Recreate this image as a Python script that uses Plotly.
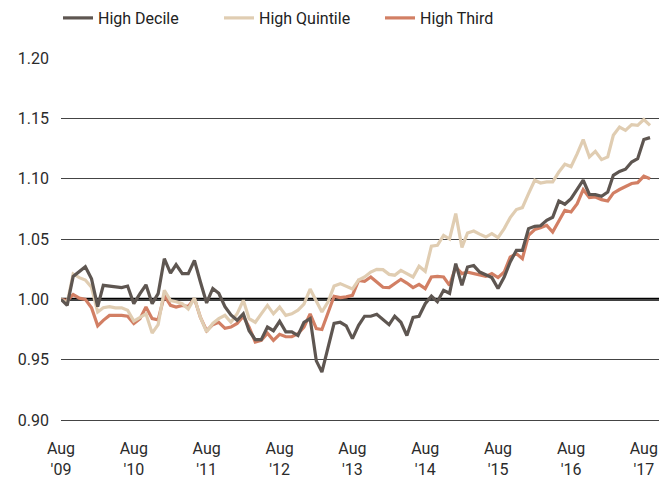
import pandas as pd
import plotly.graph_objects as go

months = pd.date_range("2009-08-01", periods=98, freq="MS")

high_decile = [
    1.000, 0.995, 1.019, 1.0235, 1.027, 1.017, 0.994, 1.0116, 1.011, 1.010,
    1.0097, 1.011, 0.9964, 1.0047, 1.012, 0.9964, 1.0047, 1.0337, 1.0218, 1.0288,
    1.0213, 1.0213, 1.0323, 1.0144, 0.997, 1.009, 1.005, 0.994, 0.987, 0.9826,
    0.988, 0.974, 0.9666, 0.9666, 0.977, 0.974, 0.9818, 0.973, 0.973, 0.970,
    0.981, 0.984, 0.949, 0.9397, 0.960, 0.980, 0.981, 0.978, 0.9674, 0.9784,
    0.986, 0.986, 0.9876, 0.983, 0.979, 0.986, 0.981, 0.970, 0.985, 0.986,
    0.9964, 1.0027, 0.998, 1.0075, 1.005, 1.0296, 1.0116, 1.0268, 1.028, 1.0226,
    1.020, 1.018, 1.0089, 1.0185, 1.031, 1.0406, 1.0406, 1.0586, 1.0605, 1.061,
    1.0655, 1.068, 1.0815, 1.0788, 1.0835, 1.0918, 1.0987, 1.087, 1.0868, 1.0854,
    1.089, 1.1028, 1.106, 1.1078, 1.1138, 1.1166, 1.1324, 1.134,
]

high_quintile = [
    1.000, 0.997, 1.021, 1.018, 1.016, 1.010, 0.9895, 0.993, 0.994, 0.993,
    0.993, 0.991, 0.982, 0.985, 0.988, 0.972, 0.979, 1.0075, 0.999, 0.998,
    0.9964, 0.992, 1.001, 0.985, 0.973, 0.980, 0.984, 0.9867, 0.981, 0.988,
    0.9992, 0.984, 0.981, 0.988, 0.995, 0.988, 0.9936, 0.9867, 0.988, 0.991,
    0.996, 1.0085, 0.998, 0.9895, 0.998, 1.011, 1.013, 1.011, 1.0085, 1.016,
    1.0185, 1.0226, 1.0249, 1.0246, 1.0207, 1.020, 1.024, 1.0213, 1.0185, 1.0274,
    1.0232, 1.044, 1.0448, 1.053, 1.050, 1.071, 1.043, 1.055, 1.0566, 1.054,
    1.0516, 1.0544, 1.0511, 1.0586, 1.0677, 1.0744, 1.076, 1.0876, 1.0987, 1.0964,
    1.0973, 1.0973, 1.1055, 1.112, 1.110, 1.1208, 1.1324, 1.118, 1.1227, 1.1158,
    1.118, 1.136, 1.1428, 1.140, 1.1448, 1.1442, 1.149, 1.1442,
]

high_third = [
    1.000, 0.999, 1.004, 1.001, 1.000, 0.993, 0.978, 0.9826, 0.9867, 0.987,
    0.9867, 0.986, 0.980, 0.984, 0.9936, 0.984, 0.983, 1.0033, 0.995, 0.9936,
    0.995, 0.994, 1.0006, 0.985, 0.974, 0.979, 0.981, 0.976, 0.977, 0.980,
    0.986, 0.977, 0.9646, 0.966, 0.972, 0.966, 0.971, 0.969, 0.969, 0.9715,
    0.977, 0.988, 0.9757, 0.975, 0.990, 1.0025, 1.0014, 1.002, 1.0033, 1.0157,
    1.015, 1.0185, 1.0143, 1.010, 1.0097, 1.013, 1.0166, 1.0135, 1.0097, 1.0124,
    1.0089, 1.0185, 1.019, 1.0185, 1.0116, 1.0268, 1.0213, 1.0225, 1.0213, 1.020,
    1.019, 1.0213, 1.018, 1.0226, 1.035, 1.0379, 1.0337, 1.053, 1.0578, 1.0594,
    1.0613, 1.0558, 1.0655, 1.0738, 1.0724, 1.0793, 1.091, 1.0843, 1.0848, 1.0826,
    1.0815, 1.088, 1.091, 1.0937, 1.096, 1.0967, 1.102, 1.100,
]

tick_dates = pd.date_range("2009-08-01", "2017-08-01", freq="12MS")
tick_labels = ["Aug<br>'09", "Aug<br>'10", "Aug<br>'11", "Aug<br>'12", "Aug<br>'13",
               "Aug<br>'14", "Aug<br>'15", "Aug<br>'16", "Aug<br>'17"]
y_ticks = [0.90, 0.95, 1.00, 1.05, 1.10, 1.15, 1.20]

FONT = "Roboto, Liberation Sans, sans-serif"

fig = go.Figure()
fig.add_trace(go.Scatter(x=months, y=high_third, name="High Third", mode="lines",
                         line=dict(color="#d27f64", width=3.2), legendrank=3))
fig.add_trace(go.Scatter(x=months, y=high_quintile, name="High Quintile", mode="lines",
                         line=dict(color="#e0cdb2", width=3.2), legendrank=2))
fig.add_trace(go.Scatter(x=months, y=high_decile, name="High Decile", mode="lines",
                         line=dict(color="#5e5651", width=3.2), legendrank=1))

fig.add_hline(y=1.0, line=dict(color="#000000", width=3), layer="below")

fig.update_layout(
    width=659, height=479,
    margin=dict(l=61, r=0, t=58, b=59, autoexpand=False),
    paper_bgcolor="white", plot_bgcolor="white",
    font=dict(family=FONT, size=16, color="#2b2b2b"),
    showlegend=True,
    legend=dict(orientation="h", xref="container", yref="container",
                x=58 / 659, y=1 - 1 / 479, xanchor="left", yanchor="top",
                entrywidth=116, entrywidthmode="pixels",
                font=dict(family=FONT, size=16, color="#222222"),
                bgcolor="rgba(0,0,0,0)", tracegroupgap=0),
    xaxis=dict(range=["2009-08-01", "2017-10-16"], tickvals=list(tick_dates),
               ticktext=tick_labels, showgrid=False, zeroline=False,
               showline=True, linecolor="#444444", linewidth=1,
               ticks="", ticklabelstandoff=14),
    yaxis=dict(range=[0.9, 1.2], tickvals=y_ticks, tickformat=".2f",
               showgrid=True, gridcolor="#444444", gridwidth=1,
               zeroline=False, showline=False, ticks="", ticklabelstandoff=11),
)

fig.write_html("out.html", config={"displayModeBar": False},
               post_script="document.body.style.margin='0px';document.body.style.overflow='hidden';")
